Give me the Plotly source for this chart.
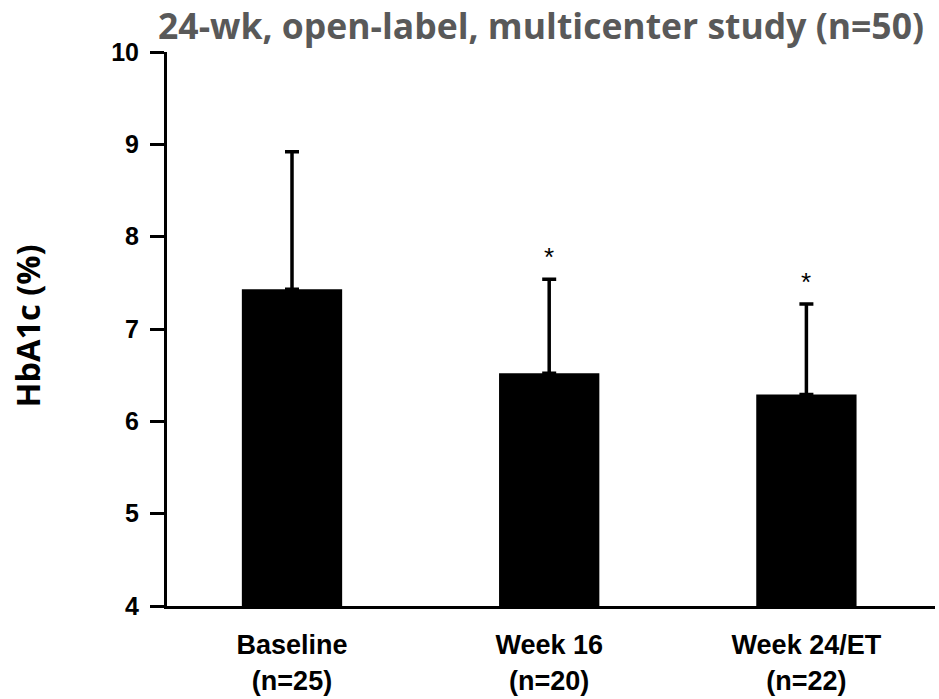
import plotly.graph_objects as go

categories = ["Baseline<br>(n=25)", "Week 16<br>(n=20)", "Week 24/ET<br>(n=22)"]
hba1c_mean = [7.43, 6.52, 6.29]
hba1c_sd = [1.49, 1.02, 0.98]
significant = [False, True, True]
y_ticks = [4, 5, 6, 7, 8, 9, 10]

fig = go.Figure()
fig.add_trace(go.Bar(
    x=list(range(len(categories))),
    y=hba1c_mean,
    width=0.39,
    marker=dict(color="black", line=dict(width=0)),
    error_y=dict(type="data", array=hba1c_sd, arrayminus=[0] * len(hba1c_sd),
                 symmetric=False, color="black", thickness=3.5, width=7),
    showlegend=False,
))

for i, (m, s, sig) in enumerate(zip(hba1c_mean, hba1c_sd, significant)):
    if sig:
        fig.add_annotation(x=i, y=m + s, text="*", showarrow=False,
                           yshift=22, font=dict(family="Liberation Sans", size=26, color="black"))

fig.update_layout(
    width=939, height=699,
    margin=dict(l=167, r=4, t=52, b=93),
    plot_bgcolor="white", paper_bgcolor="white",
    title=dict(text="<b>24-wk, open-label, multicenter study (n=50)</b>",
               font=dict(family="Open Sans", size=35.5, color="#595959"),
               x=541 / 939, xanchor="center", xref="container", y=0.962, yanchor="middle"),
    xaxis=dict(range=[-0.486, 2.5], tickmode="array",
               tickvals=list(range(len(categories))),
               ticktext=[f"<b>{c}</b>" for c in categories],
               showline=True, linecolor="black", linewidth=3, ticks="",
               ticklabelstandoff=13, automargin=False,
               showgrid=False, zeroline=False,
               tickfont=dict(family="Liberation Sans", size=27, color="black")),
    yaxis=dict(range=[4, 10], tickvals=y_ticks,
               ticktext=[f"<b>{t}</b>" for t in y_ticks],
               showline=True, linecolor="black", linewidth=3,
               ticks="outside", ticklen=14, tickwidth=3, tickcolor="black",
               ticklabelstandoff=6, automargin=False,
               showgrid=False, zeroline=False,
               tickfont=dict(family="Liberation Sans", size=25, color="black")),
)

fig.add_annotation(text="<b>HbA1c (%)</b>", xref="paper", yref="paper",
                   x=-0.182, xanchor="center", y=0.505, yanchor="middle",
                   textangle=-90, showarrow=False,
                   font=dict(family="Open Sans", size=32.5, color="black"))

fig.write_html("out.html", config={"displayModeBar": False},
               post_script="document.body.style.margin='0';")
